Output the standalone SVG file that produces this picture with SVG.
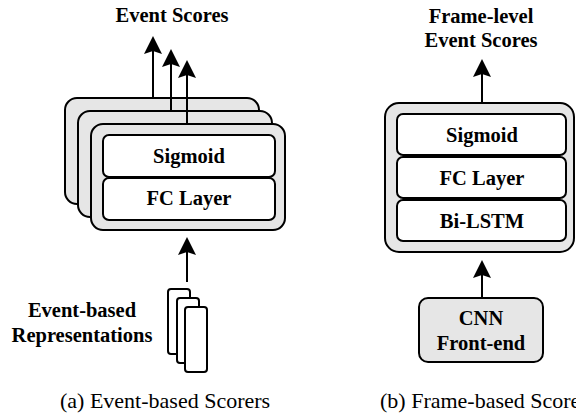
<svg xmlns="http://www.w3.org/2000/svg" width="576" height="415" viewBox="0 0 576 415">
<style>
.card{fill:#e6e6e6;stroke:#000;stroke-width:2}
.box{fill:#fff;stroke:#000;stroke-width:2}
.arr{stroke:#000;stroke-width:2;fill:none;marker-end:url(#ah)}
.cap{font-weight:normal;font-size:22px;text-anchor:start}
</style>
<defs>
<marker id="ah" viewBox="0 0 18 18" markerWidth="18" markerHeight="18" refX="8" refY="9" orient="auto" markerUnits="userSpaceOnUse">
<path d="M0,0 L18,9 L0,18 L3,9 Z" fill="#000"/>
</marker>
</defs>
<g font-family="Liberation Serif, Times New Roman, serif" font-weight="bold" font-size="20.5" text-anchor="middle" fill="#000">
<g id="title-a"><text x="172" y="22">Event Scores</text></g>
<g id="connectors">
<line class="arr" x1="153" y1="110" x2="153" y2="46"/>
</g>
<g id="scorer-back">
<rect class="card" x="65" y="98" width="194" height="106" rx="12"/>
</g>
<g id="connectors-2">
<line class="arr" x1="171" y1="123" x2="171" y2="59"/>
</g>
<g id="scorer-middle">
<rect class="card" x="78" y="111" width="194" height="106" rx="12"/>
</g>
<g id="connectors-3">
<line class="arr" x1="187" y1="135" x2="187" y2="70"/>
</g>
<g id="scorer-front">
<rect class="card" x="91" y="124" width="194" height="106" rx="12"/>
<rect class="box" x="103" y="135" width="172" height="42" rx="6"/>
<text x="189" y="163">Sigmoid</text>
<rect class="box" x="103" y="178" width="172" height="42" rx="6"/>
<text x="189" y="205">FC Layer</text>
</g>
<g id="connectors-4">
<line class="arr" x1="187" y1="282" x2="187" y2="247"/>
<line class="arr" x1="482" y1="103" x2="482" y2="69"/>
<line class="arr" x1="482" y1="298" x2="482" y2="270"/>
</g>
<g id="representations">
<rect class="box" x="168" y="289" width="22" height="65" rx="3"/>
<rect class="box" x="177" y="298" width="22" height="65" rx="3"/>
<rect class="box" x="185" y="307" width="22" height="65" rx="3"/>
<text x="82" y="317">Event-based</text>
<text x="82" y="342">Representations</text>
</g>
<g id="caption-a"><text class="cap" x="60" y="408">(a) Event-based Scorers</text></g>
<g id="title-b">
<text x="481" y="23">Frame-level</text>
<text x="481" y="47">Event Scores</text>
</g>
<g id="scorer-frame">
<rect class="card" x="385" y="103" width="189" height="149" rx="14"/>
<rect class="box" x="397" y="114" width="169" height="41" rx="6"/>
<text x="482" y="142">Sigmoid</text>
<rect class="box" x="397" y="157" width="169" height="41" rx="6"/>
<text x="482" y="185">FC Layer</text>
<rect class="box" x="397" y="200" width="169" height="41" rx="6"/>
<text x="482" y="228">Bi-LSTM</text>
</g>
<g id="cnn">
<rect class="card" x="419" y="298" width="124" height="64" rx="9"/>
<text x="481" y="325">CNN</text>
<text x="481" y="350">Front-end</text>
</g>
<g id="caption-b"><text class="cap" x="380" y="408">(b) Frame-based Scorers</text></g>
</g>
</svg>
